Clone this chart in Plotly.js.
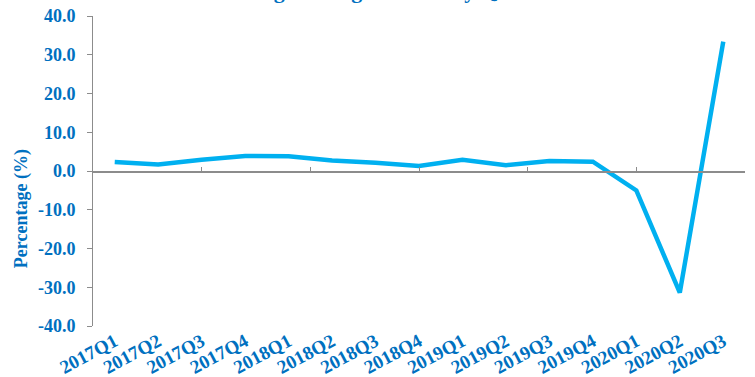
<!DOCTYPE html>
<html>
<head>
<meta charset="utf-8">
<script src="https://cdn.plot.ly/plotly-3.0.1.min.js"></script>
<style>html,body{margin:0;padding:0;background:#fff;}#chart{width:755px;height:377px;}</style>
</head>
<body>
<div id="chart"></div>
<script>
const quarters = ["2017Q1","2017Q2","2017Q3","2017Q4","2018Q1","2018Q2","2018Q3","2018Q4",
                  "2019Q1","2019Q2","2019Q3","2019Q4","2020Q1","2020Q2","2020Q3"];
const gdpChange = [2.3, 1.7, 2.9, 3.9, 3.8, 2.7, 2.1, 1.3, 2.9, 1.5, 2.6, 2.4, -5.0, -31.4, 33.4];
const titleText = "Percentage Change in GDP by Quarter";
const yTitleText = "Percentage (%)";
const yTickVals = [-40, -30, -20, -10, 0, 10, 20, 30, 40];
const yTickText = ["-40.0", "-30.0", "-20.0", "-10.0", "0.0", "10.0", "20.0", "30.0", "40.0"];
const zeroAxisTicks = [0, 1, 2, 3, 4, 5, 6];

const blue = "#0070C0";
const fontFam = "'Liberation Serif', 'Times New Roman', serif";

const trace = {
  x: quarters, y: gdpChange, type: "scatter", mode: "lines",
  line: {color: "#00B0F0", width: 4.5}, hoverinfo: "skip"
};
// carrier trace (no data) so the zero-line axis with its tick marks is drawn
const axisCarrier = {x: [], y: [], type: "scatter", mode: "lines", xaxis: "x2", yaxis: "y", hoverinfo: "skip"};

const layout = {
  width: 755, height: 377,
  margin: {l: 93, r: 10, t: 16, b: 51},
  paper_bgcolor: "#fff", plot_bgcolor: "#fff",
  showlegend: false,
  font: {family: fontFam, color: blue},
  xaxis: {
    type: "category", range: [-0.5, quarters.length - 0.5],
    showgrid: false, showline: false, zeroline: false,
    ticks: "", tickangle: -28,
    tickfont: {family: fontFam, size: 19, color: blue, weight: "bold"}
  },
  xaxis2: {
    overlaying: "x", anchor: "free", position: 0.5, range: [0, 6],
    tickvals: zeroAxisTicks, showticklabels: false, ticks: "inside", ticklen: 4,
    tickcolor: "#8c8c8c", showline: true, linecolor: "#8c8c8c", linewidth: 1.5,
    showgrid: false, zeroline: false
  },
  yaxis: {
    range: [-40, 40], tickvals: yTickVals, ticktext: yTickText,
    showgrid: false, zeroline: false,
    showline: true, linecolor: "#8c8c8c", linewidth: 1,
    ticks: "outside", ticklen: 5, tickcolor: "#8c8c8c",
    ticklabelstandoff: 8,
    tickfont: {family: fontFam, size: 18, color: blue, weight: "bold"}
  },
  annotations: [
    {text: "<b>" + titleText + "</b>", xref: "paper", yref: "paper", x: 0.4325, y: 1,
     xanchor: "center", yanchor: "bottom", yshift: 11, showarrow: false,
     font: {family: fontFam, size: 22, color: blue}},
    {text: "<b>" + yTitleText + "</b>", xref: "paper", yref: "paper", x: 0, y: 0.377,
     xshift: -72, xanchor: "center", yanchor: "middle", textangle: -90, showarrow: false,
     font: {family: fontFam, size: 18, color: blue}}
  ]
};

Plotly.newPlot("chart", [trace, axisCarrier], layout, {displayModeBar: false, staticPlot: true});
</script>
</body>
</html>
